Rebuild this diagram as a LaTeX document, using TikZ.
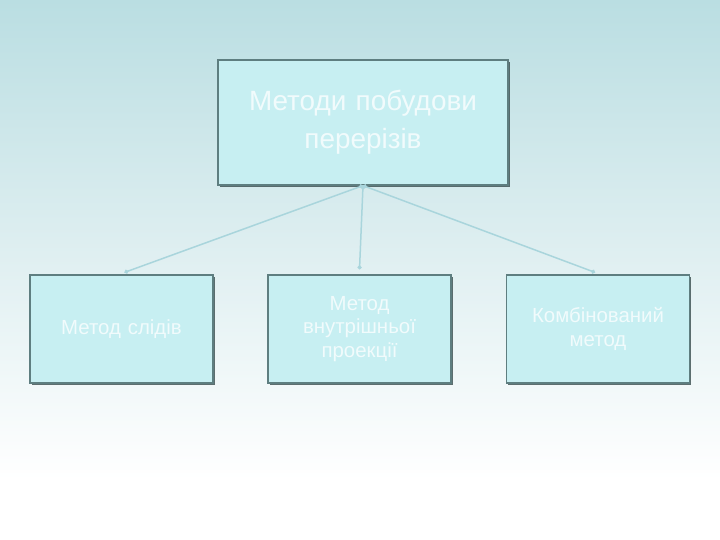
\documentclass[tikz,border=0pt]{standalone}
\usepackage{fontspec}
\setmainfont{Liberation Sans}
\usepackage{xcolor}
\usetikzlibrary{shapes.geometric, arrows.meta, shadows}
\definecolor{bgtop}{HTML}{BADEE2}
\definecolor{bgmid}{HTML}{DDEEF0}
\definecolor{boxfill}{HTML}{C7EFF2}
\definecolor{boxline}{HTML}{5E7E80}
\definecolor{linkcol}{HTML}{A9D5DC}
\tikzstyle{topbox} = [rectangle, minimum width=290bp, minimum height=125bp, text width=280bp, align=center, draw=boxline, line width=1.2bp, fill=boxfill, text=white!75!boxfill, font=\fontsize{28}{38}\selectfont, drop shadow={shadow xshift=1.8bp, shadow yshift=-1.8bp, fill=boxline!60!black, opacity=0.8}]
\tikzstyle{subbox} = [topbox, minimum width=183bp, minimum height=108bp, text width=175bp, font=\fontsize{20.5}{23.5}\selectfont]
\tikzstyle{link} = [draw=linkcol, line width=1.5bp, {Circle[length=4bp]}-{Circle[length=4bp]}]

\begin{document}
\begin{tikzpicture}[x=1bp, y=-1bp]
\fill[white] (0,0) rectangle (720,540);
\shade[top color=bgtop, bottom color=white, middle color=bgmid] (0,0) rectangle (720,480);
\useasboundingbox (0,0) rectangle (720,540);

\node (methods) [topbox] at (363,122.5) {Методи побудови\\перерізів};
\node (traces) [subbox] at (121.5,329) {Метод слідів};
\node (inner) [subbox] at (359.5,329) {Метод\\внутрішньої\\проекції};
\node (combined) [subbox] at (598,329) {Комбінований\\метод};

\draw [link] (methods.south) -- ([xshift=3bp, yshift=2bp]traces.north);
\draw [link] (methods.south) -- ([yshift=5bp]inner.north);
\draw [link] (methods.south) -- ([xshift=-3bp, yshift=2bp]combined.north);

\end{tikzpicture}
\end{document}
